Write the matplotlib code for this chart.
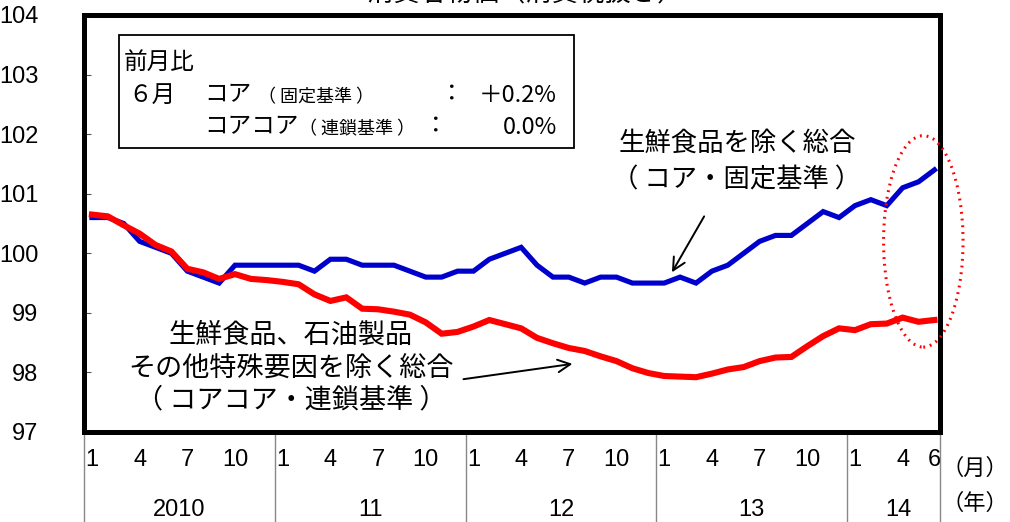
import numpy as np
import matplotlib.pyplot as plt
from matplotlib.patches import Ellipse, Rectangle
import matplotlib.transforms as mtransforms

JP = ['Noto Sans CJK JP', 'DejaVu Sans']
NUM = ['Liberation Sans', 'Noto Sans CJK JP']

# monthly index, Jan 2010 - Jun 2014
core = [100.6, 100.6, 100.5, 100.2, 100.1, 100.0, 99.7, 99.6, 99.5, 99.8, 99.8, 99.8,
        99.8, 99.8, 99.7, 99.9, 99.9, 99.8, 99.8, 99.8, 99.7, 99.6, 99.6, 99.7,
        99.7, 99.9, 100.0, 100.1, 99.8, 99.6, 99.6, 99.5, 99.6, 99.6, 99.5, 99.5,
        99.5, 99.6, 99.5, 99.7, 99.8, 100.0, 100.2, 100.3, 100.3, 100.5, 100.7, 100.6,
        100.8, 100.9, 100.8, 101.1, 101.2, 101.4]
corecore = [100.65, 100.62, 100.47, 100.33, 100.14, 100.03, 99.74, 99.68, 99.57, 99.65, 99.57, 99.55,
            99.52, 99.48, 99.31, 99.20, 99.26, 99.07, 99.06, 99.02, 98.97, 98.84, 98.65, 98.68,
            98.77, 98.88, 98.81, 98.74, 98.58, 98.49, 98.41, 98.36, 98.27, 98.19, 98.07, 97.99,
            97.94, 97.93, 97.92, 97.98, 98.05, 98.09, 98.19, 98.25, 98.26, 98.44, 98.61, 98.74,
            98.71, 98.81, 98.82, 98.92, 98.85, 98.88]
month_ticks = [0, 3, 6, 9, 12, 15, 18, 21, 24, 27, 30, 33, 36, 39, 42, 45, 48, 51, 53]
month_labels = ['1', '4', '7', '10'] * 4 + ['1', '4', '6']
year_labels = ['2010', '11', '12', '13', '14']
year_centers = [5.5, 17.5, 29.5, 41.5, 50.75]
year_edges = [-0.5, 11.5, 23.5, 35.5, 47.5, 53.35]

x = np.arange(len(core))

fig = plt.figure(figsize=(10.1, 5.22), dpi=100)
ax = fig.add_axes([84 / 1010, 90 / 522, 856 / 1010, 417 / 522])

ax.plot(x, core, color='#0000CC', lw=3.7, solid_joinstyle='miter', zorder=3)
ax.plot(x, corecore, color='#FF0000', lw=4.4, solid_joinstyle='miter', zorder=4)

ax.set_xlim(-0.5, 53.35)
ax.set_ylim(97, 104)
ax.set_yticks(range(97, 105))
ax.set_yticklabels([str(v) for v in range(97, 105)], family=NUM, fontsize=17)
ax.tick_params(axis='y', direction='in', length=5, width=0.8, color='#555555', pad=33)
ax.set_xticks(month_ticks)
ax.set_xticklabels(month_labels, family=NUM, fontsize=17)
ax.tick_params(axis='x', length=0, pad=12)
for s in ax.spines.values():
    s.set_linewidth(3.6)

# year separators and labels below the axis
trans = mtransforms.blended_transform_factory(ax.transData, ax.transAxes)
for e in year_edges:
    ax.plot([e, e], [0, -0.22], transform=trans, color='#888888', lw=1, clip_on=False)
for c, lab in zip(year_centers, year_labels):
    ax.text(c, -0.188, lab, transform=trans, ha='center', va='center',
            family=NUM, fontsize=17)
fig.text(975 / 1010, 1 - 468 / 522, '（月）', ha='center', va='center', family=JP, fontsize=16)
fig.text(975 / 1010, 1 - 503 / 522, '（年）', ha='center', va='center', family=JP, fontsize=16)

# title, mostly cut off at the top
fig.text(525 / 1010, 1 + 6 / 522, '消費者物価（消費税抜き）', ha='center', va='center',
         family=JP, fontsize=19)

# info box
def px(xp, yp):
    return xp / 1010, 1 - yp / 522

fig.patches.append(Rectangle(px(119, 148), 455 / 1010, 113 / 522, transform=fig.transFigure,
                             fill=False, ec='black', lw=1.3, zorder=5))
fig.text(*px(124, 62), '前月比', ha='left', va='center', family=JP, fontsize=17)
fig.text(*px(128, 95), '６月', ha='left', va='center', family=JP, fontsize=17)
fig.text(*px(204, 95), 'コア', ha='left', va='center', family=JP, fontsize=17)
fig.text(*px(258, 97), '（ 固定基準 ）', ha='left', va='center', family=JP, fontsize=13)
fig.text(*px(452, 95), '：', ha='center', va='center', family=JP, fontsize=17)
fig.text(*px(557, 95), '＋0.2%', ha='right', va='center', family=JP, fontsize=17)
fig.text(*px(204, 127), 'コアコア', ha='left', va='center', family=JP, fontsize=17)
fig.text(*px(299, 129), '（ 連鎖基準 ）', ha='left', va='center', family=JP, fontsize=13)
fig.text(*px(436, 127), '：', ha='center', va='center', family=JP, fontsize=17)
fig.text(*px(557, 127), '0.0%', ha='right', va='center', family=JP, fontsize=17)

# series annotations
fig.text(*px(737, 143), '生鮮食品を除く総合', ha='center', va='center', family=JP, fontsize=19)
fig.text(*px(737, 180), '（ コア・固定基準 ）', ha='center', va='center', family=JP, fontsize=19)
ax.annotate('', xy=(36.4, 99.64), xytext=(38.6, 100.66),
            arrowprops=dict(arrowstyle='->,head_length=0.9,head_width=0.45', lw=1.4, color='black'))

fig.text(*px(291, 335), '生鮮食品、石油製品', ha='center', va='center', family=JP, fontsize=19.5)
fig.text(*px(291, 368), 'その他特殊要因を除く総合', ha='center', va='center', family=JP, fontsize=19.5)
fig.text(*px(291, 400), '（ コアコア・連鎖基準 ）', ha='center', va='center', family=JP, fontsize=19.5)
ax.annotate('', xy=(30.4, 98.15), xytext=(23.2, 97.88),
            arrowprops=dict(arrowstyle='->,head_length=0.9,head_width=0.45', lw=1.4, color='black'))

# dotted highlight around latest months
ax.add_patch(Ellipse((52.3, 100.2), 5.0, 3.55, fill=False, ec='#FF0000', lw=2.2,
                     ls=(0, (0.6, 1.6)), clip_on=False, zorder=6))

fig.savefig('out.png', dpi=100)
